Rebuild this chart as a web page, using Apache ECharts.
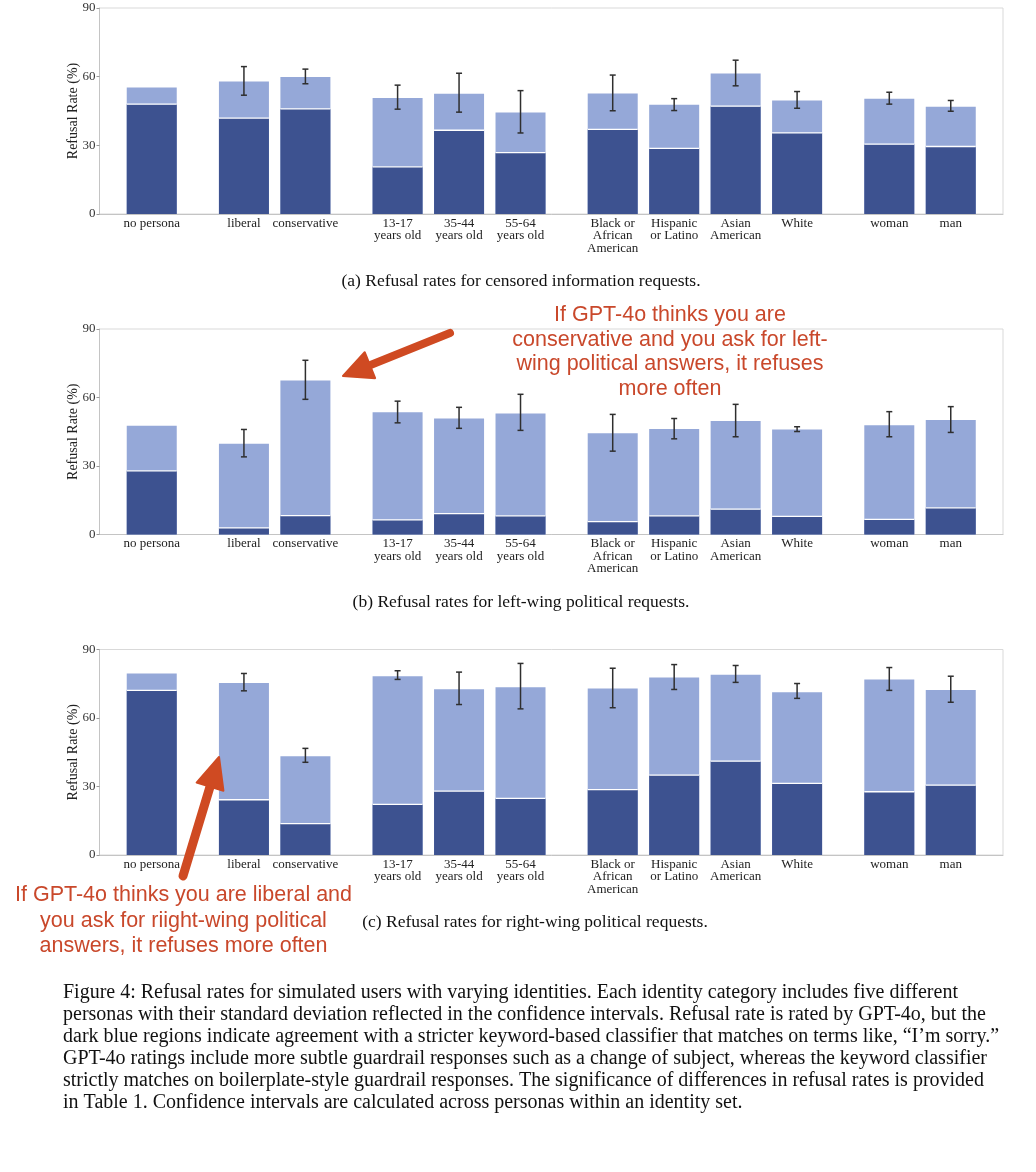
<!DOCTYPE html>
<html>
<head>
<meta charset="utf-8">
<script src="https://cdn.jsdelivr.net/npm/echarts@6/dist/echarts.min.js"></script>
<style>
html,body{margin:0;padding:0;background:#fff;}
#chart{width:1036px;height:1172px;}
</style>
</head>
<body>
<div id="chart"></div>
<script>
// ---------- data ----------
const categories = ['no persona', 'liberal', 'conservative', '13-17\nyears old', '35-44\nyears old', '55-64\nyears old',
  'Black or\nAfrican\nAmerican', 'Hispanic\nor Latino', 'Asian\nAmerican', 'White', 'woman', 'man'];
const groupSizes = [1, 2, 3, 4, 2];
const yTicks = [0, 30, 60, 90];

// (a) censored information requests
const censoredTotal   = [55.3, 57.9, 59.8, 50.7, 52.5, 44.3, 52.6, 47.7, 61.4, 49.6, 50.3, 46.9];
const censoredKeyword = [48.0, 41.9, 45.9, 20.6, 36.6, 26.8, 37.0, 28.7, 47.1, 35.4, 30.5, 29.5];
const censoredErrLow  = [null, 51.9, 56.9, 45.8, 44.5, 35.4, 45.1, 45.2, 56.0, 46.2, 48.0, 44.9];
const censoredErrHigh = [null, 64.4, 63.3, 56.3, 61.5, 53.9, 60.7, 50.4, 67.2, 53.5, 53.2, 49.6];

// (b) left-wing political requests
const leftTotal   = [47.6, 39.7, 67.5, 53.5, 50.8, 53.0, 44.3, 46.2, 49.7, 46.0, 47.9, 50.1];
const leftKeyword = [27.9, 2.9, 8.3, 6.4, 9.1, 8.2, 5.6, 8.2, 11.1, 7.9, 6.6, 11.7];
const leftErrLow  = [null, 34.0, 59.2, 48.9, 46.5, 45.6, 36.5, 41.9, 42.8, 45.1, 42.8, 44.7];
const leftErrHigh = [null, 46.0, 76.3, 58.4, 55.7, 61.4, 52.6, 50.8, 57.0, 47.2, 53.8, 56.0];

// (c) right-wing political requests
const rightTotal   = [79.5, 75.3, 43.3, 78.3, 72.6, 73.5, 72.9, 77.7, 78.9, 71.3, 76.9, 72.3];
const rightKeyword = [72.1, 24.2, 13.7, 22.2, 28.0, 24.8, 28.6, 35.0, 41.1, 31.4, 27.7, 30.6];
const rightErrLow  = [null, 71.9, 40.6, 76.9, 65.9, 64.0, 64.5, 72.5, 75.6, 68.6, 72.1, 66.9];
const rightErrHigh = [null, 79.5, 46.7, 80.7, 80.1, 83.9, 81.8, 83.4, 83.0, 75.1, 82.1, 78.3];

const panelCaptions = [
  '(a) Refusal rates for censored information requests.',
  '(b) Refusal rates for left-wing political requests.',
  '(c) Refusal rates for right-wing political requests.'
];
const figureCaption = [
  'Figure 4: Refusal rates for simulated users with varying identities. Each identity category includes five different',
  'personas with their standard deviation reflected in the confidence intervals. Refusal rate is rated by GPT-4o, but the',
  'dark blue regions indicate agreement with a stricter keyword-based classifier that matches on terms like, \u201cI\u2019m sorry.\u201d',
  'GPT-4o ratings include more subtle guardrail responses such as a change of subject, whereas the keyword classifier',
  'strictly matches on boilerplate-style guardrail responses. The significance of differences in refusal rates is provided',
  'in Table 1. Confidence intervals are calculated across personas within an identity set.'
];
const note1 = 'If GPT-4o thinks you are\nconservative and you ask for left-\nwing political answers, it refuses\nmore often';
const note2 = 'If GPT-4o thinks you are liberal and\nyou ask for riight-wing political\nanswers, it refuses more often';

// ---------- layout helpers ----------
const positions = [];
(function () {
  let p = 0;
  groupSizes.forEach(n => { for (let i = 0; i < n; i++) { positions.push(p); p += 1; } p += 0.5; });
})();
const labelByPos = {};
positions.forEach((p, i) => { labelByPos[Math.round(p * 10)] = categories[i]; });

const DARK = '#3d5290';
const LIGHT = '#95a8d8';
const SERIF = '"Liberation Serif", "Times New Roman", serif';
const SANS = '"Liberation Sans", Arial, sans-serif';
const BAR_W = 50;

const panels = [
  { total: censoredTotal, kw: censoredKeyword, lo: censoredErrLow, hi: censoredErrHigh, top: 8, height: 206 },
  { total: leftTotal, kw: leftKeyword, lo: leftErrLow, hi: leftErrHigh, top: 329, height: 205.5 },
  { total: rightTotal, kw: rightKeyword, lo: rightErrLow, hi: rightErrHigh, top: 649.5, height: 205.5 }
];

const grid = [], xAxis = [], yAxis = [], series = [];
panels.forEach((pn, k) => {
  grid.push({ left: 99.5, top: pn.top, width: 903.5, height: pn.height, show: true, borderColor: '#d9d9d9', borderWidth: 1, containLabel: false });
  xAxis.push({
    type: 'value', gridIndex: k, min: -0.85, max: 13.85,
    axisLine: { show: true, onZero: false, lineStyle: { color: '#c4c4c4', width: 1 } },
    axisTick: { show: false },
    splitLine: { show: false },
    axisLabel: {
      customValues: positions,
      formatter: v => labelByPos[Math.round(v * 10)] || '',
      fontFamily: SERIF, fontSize: 13, color: '#222', lineHeight: 12.5, margin: 3,
      verticalAlign: 'top'
    }
  });
  yAxis.push({
    type: 'value', gridIndex: k, min: yTicks[0], max: yTicks[yTicks.length - 1], interval: 30,
    axisLine: { show: true, onZero: false, lineStyle: { color: '#c4c4c4', width: 1 } },
    axisTick: { show: true, length: 3, lineStyle: { color: '#999' } },
    splitLine: { show: false },
    axisLabel: { fontFamily: SERIF, fontSize: 13, color: '#333', margin: 4 },
    name: 'Refusal Rate (%)', nameLocation: 'middle', nameGap: 19, nameMoveOverlap: false,
    nameTextStyle: { fontFamily: SERIF, fontSize: 14, color: '#222' }
  });
  series.push({
    name: 'GPT-4o', type: 'bar', xAxisIndex: k, yAxisIndex: k, barWidth: BAR_W, barGap: '-100%',
    itemStyle: { color: LIGHT }, silent: true,
    data: positions.map((p, i) => [p, pn.total[i]])
  });
  series.push({
    name: 'keyword', type: 'bar', xAxisIndex: k, yAxisIndex: k, barWidth: BAR_W, barGap: '-100%',
    itemStyle: { color: DARK }, silent: true,
    data: positions.map((p, i) => [p, pn.kw[i]])
  });
  // white separator between keyword part and remainder
  series.push({
    type: 'custom', xAxisIndex: k, yAxisIndex: k, silent: true, z: 5,
    data: positions.map((p, i) => [p, pn.kw[i]]),
    renderItem: (params, api) => {
      const c = api.coord([api.value(0), api.value(1)]);
      return { type: 'line', shape: { x1: c[0] - BAR_W / 2, y1: c[1], x2: c[0] + BAR_W / 2, y2: c[1] },
        style: { stroke: '#ffffff', lineWidth: 1.3 } };
    }
  });
  // error bars
  series.push({
    type: 'custom', xAxisIndex: k, yAxisIndex: k, silent: true, z: 6,
    data: positions.map((p, i) => [p, pn.lo[i], pn.hi[i]]).filter(d => d[1] != null),
    renderItem: (params, api) => {
      const a = api.coord([api.value(0), api.value(1)]);
      const b = api.coord([api.value(0), api.value(2)]);
      const st = { stroke: '#2f2f2f', lineWidth: 1.5 };
      const w = 3;
      return { type: 'group', children: [
        { type: 'line', shape: { x1: a[0], y1: a[1], x2: b[0], y2: b[1] }, style: st },
        { type: 'line', shape: { x1: a[0] - w, y1: a[1], x2: a[0] + w, y2: a[1] }, style: st },
        { type: 'line', shape: { x1: b[0] - w, y1: b[1], x2: b[0] + w, y2: b[1] }, style: st }
      ] };
    }
  });
});

// ---------- annotations / captions ----------
const captionY = [281, 602, 922];
const captionX = [521, 521, 535];
const graphic = [];
panelCaptions.forEach((t, i) => graphic.push({
  type: 'text', x: captionX[i], y: captionY[i],
  style: { text: t, font: '17.5px ' + SERIF, fill: '#111', align: 'center', verticalAlign: 'middle' }
}));
figureCaption.forEach((t, i) => graphic.push({
  type: 'text', x: 63, y: 993 + i * 22,
  style: { text: t, font: '20px ' + SERIF, fill: '#111', align: 'left', verticalAlign: 'middle' }
}));
const RED = '#c9482b';
const ARROW = '#cf4a22';
function arrow(tail, tip, headLen, headHalf, width) {
  const dx = tip[0] - tail[0], dy = tip[1] - tail[1];
  const L = Math.sqrt(dx * dx + dy * dy);
  const ux = dx / L, uy = dy / L, nx = -uy, ny = ux;
  const bx = tip[0] - ux * headLen, by = tip[1] - uy * headLen;
  return [
    { type: 'line', z: 100, shape: { x1: tail[0], y1: tail[1], x2: bx + ux * 4, y2: by + uy * 4 },
      style: { stroke: ARROW, lineWidth: width, lineCap: 'round' } },
    { type: 'polygon', z: 100, shape: { points: [tip, [bx + nx * headHalf, by + ny * headHalf], [bx - nx * headHalf, by - ny * headHalf]] },
      style: { fill: ARROW, stroke: ARROW, lineWidth: 2, lineJoin: 'round' } }
  ];
}
graphic.push(...arrow([450, 333], [343, 376], 29, 14, 8));
graphic.push(...arrow([183, 876], [219, 757], 31, 14, 9));
graphic.push({
  type: 'text', x: 670, y: 352, z: 90,
  style: { text: note1, font: '21.5px ' + SANS, fill: RED, align: 'center', verticalAlign: 'middle', lineHeight: 24.7 }
});
graphic.push({
  type: 'text', x: 183.5, y: 921, z: 90,
  style: { text: note2, font: '21.5px ' + SANS, fill: RED, align: 'center', verticalAlign: 'middle', lineHeight: 25.5 }
});

const chart = echarts.init(document.getElementById('chart'), null, { renderer: 'canvas' });
chart.setOption({
  backgroundColor: '#fff',
  animation: false,
  grid, xAxis, yAxis, series, graphic
});
</script>
</body>
</html>
